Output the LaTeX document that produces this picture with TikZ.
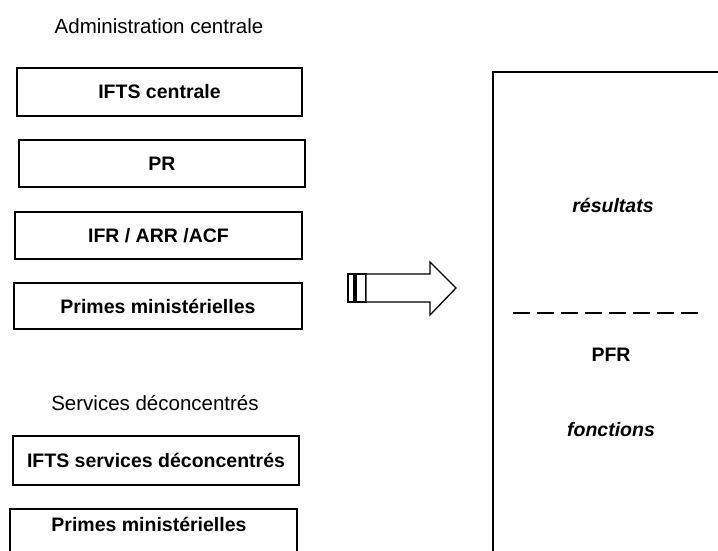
\documentclass[tikz,border=0pt]{standalone}
\usepackage{fontspec}
\setmainfont{Liberation Sans}
\begin{document}
\begin{tikzpicture}[x=1pt,y=-1pt,
  heading/.style={inner sep=0pt,font=\fontsize{20.5}{24}\selectfont},
  btext/.style={inner sep=0pt,font=\fontsize{19.5}{22}\selectfont\bfseries},
  itext/.style={inner sep=0pt,font=\fontsize{19.5}{22}\selectfont\bfseries\itshape},
  lbox/.style={draw=black,line width=1.6pt,fill=white,inner sep=0pt,
    font=\fontsize{19.5}{22}\selectfont\bfseries},
  panelbox/.style={draw=black,line width=1.7pt,fill=white,inner sep=0pt},
  arrowline/.style={draw=black,line width=1.3pt,fill=white,line join=miter},
  sepline/.style={draw=black,line width=1.5pt,dash pattern=on 17pt off 7pt}]
\useasboundingbox (0,0) rectangle (718,551);
\clip (0,0) rectangle (718,551);
% headings
\node[heading] (hadmin) at (159,26) {Administration centrale};
\node[heading] (hserv) at (155,403) {Services déconcentrés};
% left boxes
\node[lbox,minimum width=285pt,minimum height=48pt] (b1) at (159.5,92) {IFTS centrale};
\node[lbox,minimum width=286pt,minimum height=47pt] (b2) at (162,163.5) {PR};
\node[lbox,minimum width=287pt,minimum height=47pt] (b3) at (158.5,235.5) {IFR / ARR /ACF};
\node[lbox,minimum width=288pt,minimum height=46pt] (b4) at (158,306) {Primes ministérielles};
\node[lbox,minimum width=286pt,minimum height=49pt] (b5) at (156,460.5) {IFTS services déconcentrés};
\node[lbox,minimum width=287pt,minimum height=60pt,anchor=north] (b6) at (153.5,508) {};
\node[btext] (t6) at (149,524) {Primes ministérielles};
% arrow
\draw[arrowline] (348,274) rectangle (354,302);
\draw[arrowline] (356,274) rectangle (366,302);
\draw[arrowline] (366,274) -- (430,274) -- (430,262) -- (456,288) -- (430,315) -- (430,302) -- (366,302) -- cycle;
% right panel
\node[panelbox,anchor=north west,minimum width=300pt,minimum height=520pt] (panel) at (492,71) {};
\node[itext] (res) at (613,205) {résultats};
\coordinate (dl) at (513,313);
\coordinate (dr) at (703,313);
\draw[sepline] (dl) -- (dr);
\node[btext] (pfr) at (611,355) {PFR};
\node[itext] (fonc) at (611,430) {fonctions};
\end{tikzpicture}
\end{document}
